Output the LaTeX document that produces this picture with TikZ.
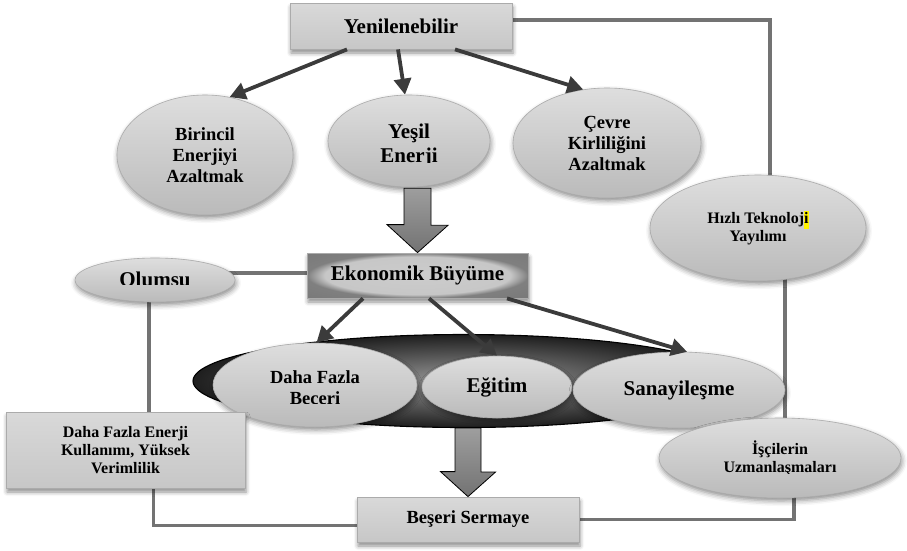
\documentclass[tikz,border=0pt]{standalone}
\usepackage{fontspec}
\setmainfont{Liberation Serif}
\usetikzlibrary{shapes.geometric,shadows.blur,arrows.meta,backgrounds}

\newcommand{\hlmark}[1]{{\setlength{\fboxsep}{0pt}\colorbox{yellow}{\strut #1}}}
\pgfdeclareradialshading{rimshade}{\pgfpoint{0bp}{0bp}}{color(0bp)=(black!20); color(21bp)=(black!22); color(25bp)=(black!50); color(50bp)=(black!56)}

\tikzset{
  txtA/.style={font=\bfseries\fontsize{21pt}{24pt}\selectfont, align=center},
  txtB/.style={font=\bfseries\fontsize{18.5pt}{21pt}\selectfont, align=center},
  txtC/.style={font=\bfseries\fontsize{16pt}{18pt}\selectfont, align=center},
  bubble/.style={ellipse, draw=black!33, line width=0.6pt, top color=black!13, bottom color=black!27, inner sep=0pt,
    blur shadow={shadow xshift=1pt, shadow yshift=-3pt, shadow blur radius=5pt, shadow opacity=45}},
  panel/.style={rectangle, draw=black!33, line width=0.8pt, top color=black!15, bottom color=black!22, inner sep=0pt,
    blur shadow={shadow xshift=1pt, shadow yshift=-4pt, shadow blur radius=4pt, shadow opacity=45}},
  link/.style={draw=black!55, line width=3.2pt},
  arr/.style={draw=black!77, line width=3.8pt, -{Triangle[length=16pt,width=17pt]}},
  blockarr/.style={draw=black, line width=0.8pt, top color=black!38, bottom color=black!55}
}

\begin{document}
\begin{tikzpicture}[x=1pt,y=1pt]
\useasboundingbox (0,0) rectangle (907,-550);

% top level
\node[panel, txtA, minimum width=222pt, minimum height=46pt] (yen) at (401,-26) {Yenilenebilir};
\node[bubble, txtB, minimum width=176pt, minimum height=120pt] (birincil) at (205,-155) {Birincil\\Enerjiyi\\Azaltmak};
\node[bubble, minimum width=162pt, minimum height=92pt] (yesil) at (409,-141) {};
\begin{scope}
  \clip (yesil.north west) rectangle ([yshift=-21.5pt]yesil.east);
  \node[txtA] (yesiltext) at ([yshift=-4pt]yesil.center) {Yeşil\\Enerji};
\end{scope}
\node[bubble, txtB, minimum width=188pt, minimum height=110pt] (cevre) at (607,-143) {Çevre\\Kirliliğini\\Azaltmak};
\node[bubble, txtC, minimum width=216pt, minimum height=106pt] (hizli) at (758,-228) {Hızlı Teknoloj\hlmark{i}\\Yayılımı};

% middle level
\node[bubble, minimum width=160pt, minimum height=44pt] (olumsu) at (155,-280) {};
\begin{scope}
  \clip (olumsu.north west) rectangle ([yshift=-4pt]olumsu.east);
  \node[txtA] (olumsutext) at ([yshift=1pt]olumsu.center) {Olumsu};
\end{scope}
\node[panel, txtA, shading=rimshade, minimum width=221pt, minimum height=45pt] (ekon) at (417.5,-275.5) {Ekonomik Büyüme};

\node[ellipse, draw=black, line width=1.1pt, inner color=black!40, outer color=black!88, minimum width=542pt, minimum height=93pt] (group) at (464,-381) {};
\node[bubble, minimum width=204pt, minimum height=84pt] (beceri) at (315,-385) {};
\begin{scope}
  \clip (beceri.north west) rectangle ([yshift=-18.5pt]beceri.east);
  \node[txtB] (becerittext) at ([yshift=-3pt]beceri.center) {Daha Fazla\\Beceri};
\end{scope}
\node[bubble, txtA, minimum width=150pt, minimum height=62pt] (egitim) at (497,-387) {Eğitim};
\node[bubble, txtA, minimum width=212pt, minimum height=76pt] (sanay) at (679,-390) {Sanayileşme};

% bottom level
\node[panel, txtC, minimum width=239pt, minimum height=76pt] (enerji) at (125.5,-450) {Daha Fazla Enerji\\Kullanımı, Yüksek\\Verimlilik};
\node[bubble, minimum width=242pt, minimum height=80pt] (isci) at (780,-458) {};
\begin{scope}
  \clip (isci.north west) rectangle ([yshift=-15.5pt]isci.east);
  \node[txtC] (iscitext) at ([yshift=-0.7pt]isci.center) {İşçilerin\\Uzmanlaşmaları};
\end{scope}
\node[panel, txtB, minimum width=222pt, minimum height=45pt] (beseri) at (468,-519.5) {Beşeri Sermaye};

% feedback loop
\begin{scope}[on background layer]
  \coordinate (yenturn) at (770,-20);
  \draw[link] (yen |- yenturn) -- (yenturn) -- (yenturn |- hizli);
  \draw[link] ([xshift=27pt]hizli.center) |- (isci);
  \draw[link] ([xshift=14pt]isci.center) |- (beseri);
  \draw[link] ([yshift=-6pt]beseri.center) -| ([xshift=28pt]enerji.center);
  \draw[link] ([xshift=23.5pt]enerji.center) |- (olumsu);
  \draw[link] ([yshift=7pt]olumsu.center) -- ([yshift=2.5pt]ekon.center);
\end{scope}

% arrows
\draw[arr] ([xshift=-54pt]yen.south) -- (birincil.67);
\draw[arr] ([xshift=-3pt]yen.south) -- ([xshift=-4pt]yesil.north);
\draw[arr] ([xshift=54pt]yen.south) -- (cevre.114);
\draw[arr] ([xshift=-54.5pt]ekon.south) -- (beceri.88);
\draw[arr] ([xshift=11.5pt]ekon.south) -- (egitim.north);
\draw[arr] ([xshift=89.5pt]ekon.south) -- (sanay.78);

\draw[blockarr] (yesil.south -| ekon.north) ++(-13.5,-1) -- ++(27,0) -- ++(0,-37) -- ++(17,0)
  -- (ekon.north) -- ++(-30.5,28) -- ++(17,0) -- cycle;
\draw[blockarr] (group.south -| beseri.north) ++(-13,0) -- ++(26,0) -- ++(0,-44) -- ++(14.5,0)
  -- (beseri.north) -- ++(-27.5,25) -- ++(14.5,0) -- cycle;
\end{tikzpicture}
\end{document}
